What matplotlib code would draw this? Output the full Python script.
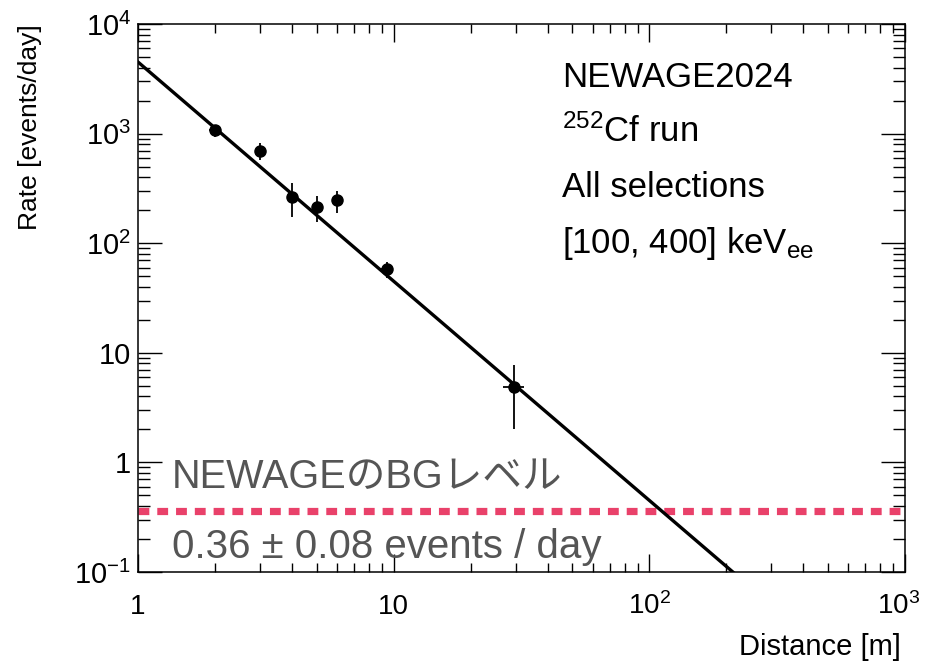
import matplotlib
matplotlib.use('Agg')
import matplotlib.pyplot as plt
import matplotlib.ticker as mticker
import matplotlib.transforms as mtrans
import numpy as np

plt.rcParams['font.family'] = ['Liberation Sans', 'Noto Sans CJK JP', 'DejaVu Sans']
plt.rcParams['mathtext.fontset'] = 'custom'
plt.rcParams['mathtext.rm'] = 'Liberation Sans'
plt.rcParams['mathtext.it'] = 'Liberation Sans:italic'
plt.rcParams['mathtext.bf'] = 'Liberation Sans:bold'
plt.rcParams['axes.unicode_minus'] = True

# measured rates vs distance (252Cf run)
distance   = [2.0, 3.0, 4.0, 5.0, 6.0, 9.4, 29.5]
distance_e = [0.1, 0.1, 0.1, 0.1, 0.1, 0.5, 2.7]
rate       = [1080, 690, 265, 215, 248, 58, 4.9]
rate_lo    = [140, 120, 92, 60, 58, 10, 2.9]
rate_hi    = [120, 130, 90, 55, 52, 9, 2.8]

# 1/r^2 fit
fit_norm  = 4500.0
fit_index = -2.0

# NEWAGE background level
bg_level = 0.36

x_ticks = [1, 10, 100, 1000]
x_tick_labels = ['1', '10', r'$10^{2}$', r'$10^{3}$']
y_ticks = [0.1, 1, 10, 100, 1000, 10000]
y_tick_labels = [r'$10^{-1}$', '1', '10', r'$10^{2}$', r'$10^{3}$', r'$10^{4}$']

C_BG   = '#E9416A'
C_GRAY = '#555555'

fig = plt.figure(figsize=(9.25, 6.63), dpi=100)
fig.patch.set_facecolor('white')
ax = fig.add_axes([138/925, 91/663, 767/925, 548/663])
ax.set_xscale('log')
ax.set_yscale('log')
ax.set_xlim(1, 1000)
ax.set_ylim(0.1, 10000)

# fit line
xf = np.geomspace(1, 1000, 200)
ax.plot(xf, fit_norm * xf**fit_index, color='black', lw=2.4, zorder=3)

# data
ax.errorbar(distance, rate, xerr=distance_e, yerr=[rate_lo, rate_hi],
            fmt='o', color='black', ms=8, elinewidth=1.3, capsize=0, zorder=4)

# background level
ax.axhline(bg_level, color=C_BG, lw=5.2, linestyle=(0, (1.5, 1.1)),
           dash_capstyle='butt', zorder=2)

# ticks
ax.xaxis.set_major_locator(mticker.FixedLocator(x_ticks))
ax.xaxis.set_major_formatter(mticker.FixedFormatter(x_tick_labels))
ax.xaxis.set_minor_locator(mticker.LogLocator(base=10, subs=range(2, 10), numticks=20))
ax.xaxis.set_minor_formatter(mticker.NullFormatter())
ax.yaxis.set_major_locator(mticker.FixedLocator(y_ticks))
ax.yaxis.set_major_formatter(mticker.FixedFormatter(y_tick_labels))
ax.yaxis.set_minor_locator(mticker.LogLocator(base=10, subs=range(2, 10), numticks=20))
ax.yaxis.set_minor_formatter(mticker.NullFormatter())

ax.tick_params(axis='both', which='both', direction='in', top=True, right=True,
               width=1.0, colors='black')
ax.tick_params(axis='x', which='major', length=13, pad=30, labelsize=20)
ax.tick_params(axis='x', which='minor', length=6.5)
ax.tick_params(axis='y', which='major', length=17, pad=5, labelsize=21)
ax.tick_params(axis='y', which='minor', length=8.5)
for t in ax.xaxis.get_major_ticks():
    t.label1.set_verticalalignment('baseline')
# nudge the last label left so it stays inside the canvas
last = ax.xaxis.get_major_ticks()[-1].label1
last.set_transform(last.get_transform()
                   + mtrans.ScaledTranslation(-6/100, 0, fig.dpi_scale_trans))

for s in ax.spines.values():
    s.set_linewidth(1.1)

ax.set_xlabel('Distance [m]', fontsize=21, ha='right', va='center')
ax.xaxis.set_label_coords(0.994, -0.137)
ax.set_ylabel('Rate [events/day]', fontsize=19, loc='top')
ax.yaxis.set_label_coords(-0.125, 1.0)

# annotations
tx = 0.553
ax.text(tx, 0.885, 'NEWAGE2024', transform=ax.transAxes, fontsize=25, va='baseline')
ax.text(tx, 0.785, r'$^{252}$Cf run', transform=ax.transAxes, fontsize=25, va='baseline')
ax.text(tx, 0.684, 'All selections', transform=ax.transAxes, fontsize=25, va='baseline')
ax.text(tx, 0.582, r'[100, 400] keV$_{\mathregular{ee}}$', transform=ax.transAxes,
        fontsize=25, va='baseline')

ax.text(0.044, 0.153, 'NEWAGEのBGレベル', transform=ax.transAxes, fontsize=28.5,
        color=C_GRAY, va='baseline')
ax.text(0.044, 0.0255, '0.36 ± 0.08 events / day', transform=ax.transAxes,
        fontsize=29, color=C_GRAY, va='baseline')

fig.savefig('out.png', dpi=100, facecolor='white')
